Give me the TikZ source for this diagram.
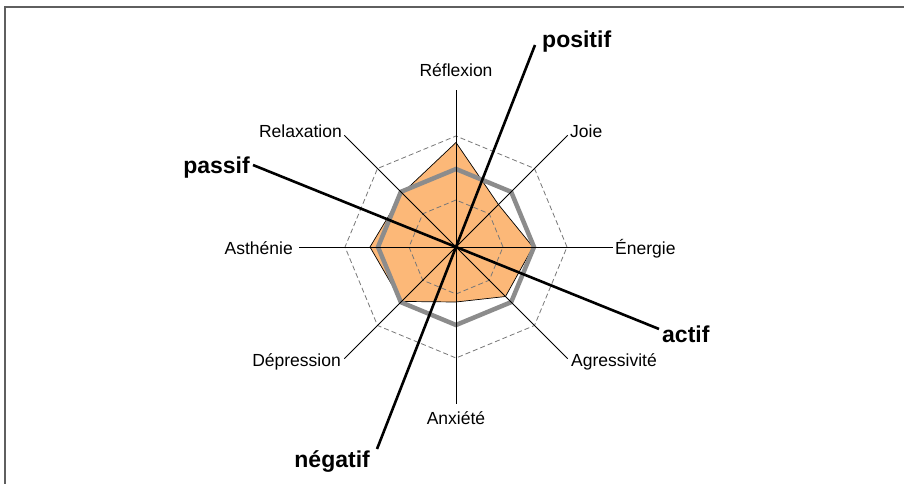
\documentclass[tikz,border=0pt]{standalone}
\usepackage{fontspec}
\setmainfont{Liberation Sans}
\definecolor{fillorange}{RGB}{252,184,120}
\definecolor{framegray}{RGB}{95,95,95}
\definecolor{ringgray}{RGB}{140,140,140}
\definecolor{gridgray}{RGB}{120,120,120}
\begin{document}
\begin{tikzpicture}[x=1pt,y=1pt,
  axisline/.style={black, line width=0.9pt},
  gridline/.style={gridgray, dash pattern=on 5pt off 3pt, line width=0.8pt},
  ringline/.style={ringgray, line width=4.5pt, line join=miter},
  boldline/.style={black, line width=2.6pt},
  lab/.style={font=\fontsize{17.5}{20}\selectfont, inner sep=0pt},
  biglab/.style={font=\fontsize{23}{26}\selectfont\bfseries, inner sep=0pt}]
\useasboundingbox (0,0) rectangle (904,-484);
\fill[white] (0,0) rectangle (904,-484);
\draw[framegray, line width=1.5pt] (5,-484) -- (5,-7) -- (904,-7);
\begin{scope}[shift={(456,-247)}]
  \coordinate (O) at (0,0);
  % data polygon
  \filldraw[fill=fillorange, draw=black, line width=0.7pt]
    (90:104.5) -- (45:60) -- (0:77) -- (-45:70) -- (-90:55)
    -- (-135:77) -- (180:86) -- (135:76) -- cycle;
  % grid
  \draw[gridline] (0:111) \foreach \a in {45,90,...,315} { -- (\a:111)} -- cycle;
  \draw[gridline] (0:47) \foreach \a in {45,90,...,315} { -- (\a:47)} -- cycle;
  \draw[ringline] (0:78) \foreach \a in {45,90,...,315} { -- (\a:78)} -- cycle;
  % axis ends
  \coordinate (eRef) at (90:157);
  \coordinate (eJoi) at (45:158);
  \coordinate (eEne) at (0:157);
  \coordinate (eAgr) at (-45:158);
  \coordinate (eAnx) at (-90:157);
  \coordinate (eDep) at (-135:158);
  \coordinate (eAst) at (180:157);
  \coordinate (eRel) at (135:158);
  \foreach \e in {eRef,eJoi,eEne,eAgr,eAnx,eDep,eAst,eRel} {\draw[axisline] (O) -- (\e);}
\end{scope}
% rotated bold axes
\coordinate (ePos) at (535,-45);
\coordinate (eNeg) at (377,-449);
\coordinate (ePas) at (253,-165);
\coordinate (eAct) at (659,-329);
\draw[boldline] (ePos) -- (eNeg);
\draw[boldline] (ePas) -- (eAct);
% labels
\node[lab, anchor=base] (lRef) at (456,-77) {Réflexion};
\node[lab, anchor=base east] (lRel) at (342,-137) {Relaxation};
\node[lab, anchor=base west] (lJoi) at (570,-137) {Joie};
\node[lab, anchor=base east] (lAst) at (293,-254) {Asthénie};
\node[lab, anchor=base west] (lEne) at (615,-254) {Énergie};
\node[lab, anchor=base west] (lAgr) at (571,-366) {Agressivité};
\node[lab, anchor=base east] (lDep) at (341,-366) {Dépression};
\node[lab, anchor=base] (lAnx) at (456,-424) {Anxiété};
\node[biglab, anchor=base west] (lPos) at (542,-48) {positif};
\node[biglab, anchor=base east] (lPas) at (250,-173) {passif};
\node[biglab, anchor=base west] (lAct) at (662,-342) {actif};
\node[biglab, anchor=base east] (lNeg) at (370,-467) {négatif};
\end{tikzpicture}
\end{document}
